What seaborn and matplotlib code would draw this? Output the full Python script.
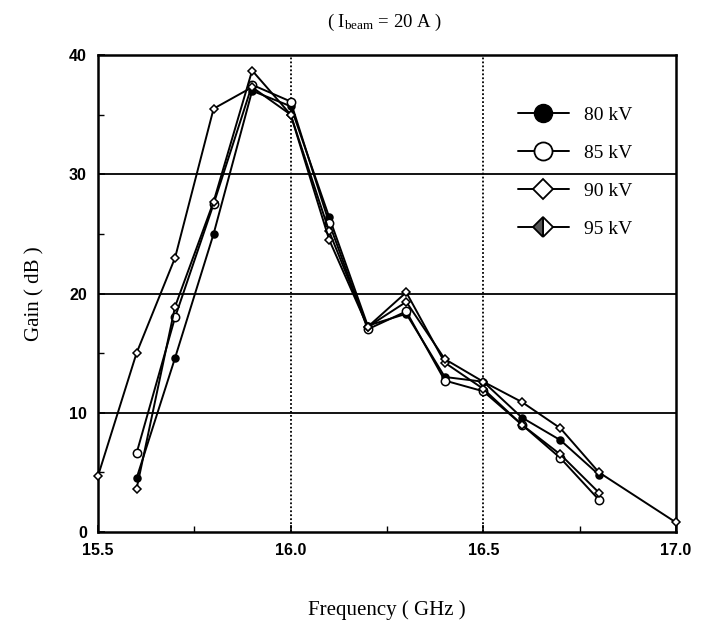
import pandas as pd
import seaborn as sns
from matplotlib import pyplot as plt
from matplotlib.lines import Line2D

# Gain curves (I_beam = 20 A)
freq_80 = [15.6, 15.7, 15.8, 15.9, 16.0, 16.1, 16.2, 16.3, 16.4, 16.5, 16.6, 16.7, 16.8]
gain_80 = [4.5, 14.6, 25.0, 37.0, 35.7, 26.4, 17.3, 18.3, 13.0, 12.6, 9.6, 7.7, 4.8]

freq_85 = [15.6, 15.7, 15.8, 15.9, 16.0, 16.1, 16.2, 16.3, 16.4, 16.5, 16.6, 16.7, 16.8]
gain_85 = [6.6, 18.0, 27.5, 37.5, 36.1, 25.9, 17.0, 18.5, 12.7, 11.8, 9.0, 6.2, 2.7]

freq_90 = [15.6, 15.7, 15.8, 15.9, 16.0, 16.1, 16.2, 16.3, 16.4, 16.5, 16.6, 16.7, 16.8]
gain_90 = [3.6, 18.9, 27.7, 38.7, 35.0, 25.2, 17.2, 20.1, 14.2, 12.0, 9.0, 6.5, 3.3]

freq_95 = [15.5, 15.6, 15.7, 15.8, 15.9, 16.0, 16.1, 16.2, 16.3, 16.4, 16.5, 16.6, 16.7, 16.8, 17.0]
gain_95 = [4.7, 15.0, 23.0, 35.5, 37.3, 35.0, 24.5, 17.2, 19.3, 14.5, 12.6, 10.9, 8.7, 5.0, 0.8]

labels = ["80 kV", "85 kV", "90 kV", "95 kV"]

rows = []
for lab, fx, gy in zip(labels, [freq_80, freq_85, freq_90, freq_95],
                       [gain_80, gain_85, gain_90, gain_95]):
    for f, g in zip(fx, gy):
        rows.append({"series": lab, "freq": f, "gain": g})
df = pd.DataFrame(rows)

sns.set_theme(style="ticks")
plt.rcParams["font.family"] = ["Liberation Sans", "DejaVu Sans"]
plt.rcParams["text.color"] = "black"
plt.rcParams["axes.labelcolor"] = "black"
plt.rcParams["mathtext.fontset"] = "custom"
plt.rcParams["mathtext.rm"] = "Liberation Serif"
plt.rcParams["mathtext.it"] = "Liberation Serif:italic"
plt.rcParams["mathtext.bf"] = "Liberation Serif:bold"

serif = ["Liberation Serif", "DejaVu Serif"]

fig = plt.figure(figsize=(7.08, 6.31), dpi=100)
ax = fig.add_axes([98 / 708, 1 - 532 / 631, (676 - 98) / 708, (532 - 55) / 631])

# marker style per series (plot markers are small in the original)
styles = {
    "80 kV": dict(marker="o", markersize=5, markerfacecolor="black"),
    "85 kV": dict(marker="o", markersize=6, markerfacecolor="white"),
    "90 kV": dict(marker="D", markersize=4, markerfacecolor="white"),
    "95 kV": dict(marker="D", markersize=4, markerfacecolor="white"),
}

for lab in labels:
    sub = df[df["series"] == lab]
    sns.lineplot(data=sub, x="freq", y="gain", ax=ax, color="black", linewidth=1.4,
                 estimator=None, sort=False, legend=False, clip_on=False, zorder=3,
                 markeredgecolor="black", markeredgewidth=1.1, **styles[lab])

# grid: solid horizontal, dotted vertical
for yv in [10, 20, 30]:
    ax.axhline(yv, color="black", lw=1.3, zorder=0)
for xv in [16.0, 16.5]:
    ax.axvline(xv, color="black", lw=1.3, ls=(0, (1, 1.2)), zorder=0)

ax.set_xlim(15.5, 17.0)
ax.set_ylim(0, 40)
ax.set_xticks([15.5, 16.0, 16.5, 17.0])
ax.set_xticklabels(["15.5", "16.0", "16.5", "17.0"])
ax.set_xticks([15.75, 16.25, 16.75], minor=True)
ax.set_yticks([0, 10, 20, 30, 40])
ax.set_yticks([5, 15, 25, 35], minor=True)
ax.tick_params(which="both", direction="in", colors="black", labelsize=11.5)
ax.tick_params(which="major", length=5, width=1.2, pad=8)
ax.tick_params(which="minor", length=4, width=1.0)
for t in ax.get_xticklabels() + ax.get_yticklabels():
    t.set_fontweight("bold")
for sp in ax.spines.values():
    sp.set_visible(True)
    sp.set_linewidth(1.8)
    sp.set_color("black")

ax.set_xlabel("Frequency ( GHz )", family=serif, fontsize=15, labelpad=30)
ax.set_ylabel("Gain ( dB )", family=serif, fontsize=15, labelpad=18)

fig.text(385 / 708, 1 - 22 / 631, r"( I$_{\mathrm{beam}}$ = 20 A )",
         family=serif, fontsize=13.5, ha="center", va="center")

# legend with larger symbols, 95 kV drawn as half-filled diamond
handles = [
    Line2D([], [], color="black", lw=1.4, marker="o", markersize=13,
           markerfacecolor="black", markeredgecolor="black"),
    Line2D([], [], color="black", lw=1.4, marker="o", markersize=13,
           markerfacecolor="white", markeredgecolor="black", markeredgewidth=1.3),
    Line2D([], [], color="black", lw=1.4, marker="D", markersize=10,
           markerfacecolor="white", markeredgecolor="black", markeredgewidth=1.3),
    Line2D([], [], color="black", lw=1.4, marker="D", markersize=10,
           markerfacecolor="white", markerfacecoloralt="#555555", fillstyle="right",
           markeredgecolor="black", markeredgewidth=1.3),
]
leg = ax.legend(handles, labels, loc="upper right", bbox_to_anchor=(0.955, 0.93),
                frameon=False, handlelength=2.6, labelspacing=1.05,
                prop={"family": serif, "size": 14})
for t in leg.get_texts():
    t.set_color("black")

plt.savefig("out.png", dpi=100)
